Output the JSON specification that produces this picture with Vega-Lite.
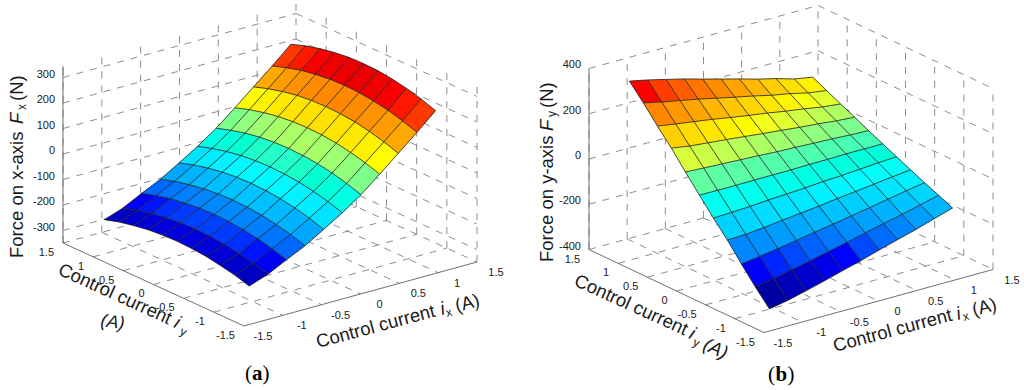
{"$schema":"https://vega.github.io/schema/vega-lite/v6.json","width":1024,"height":390,"autosize":{"type":"fit","contains":"padding"},"padding":0,"background":"white","config":{"view":{"stroke":null},"text":{"font":"Liberation Sans","fill":"#1a1a1a"}},
"data":{"values":[
{"s":"n","p":"a","ix":-1.2,"iy":1.2,"f":-250},{"s":"n","p":"a","ix":-1.2,"iy":0.96,"f":-233},{"s":"n","p":"a","ix":-1.2,"iy":0.72,"f":-221},{"s":"n","p":"a","ix":-1.2,"iy":0.48,"f":-211},{"s":"n","p":"a","ix":-1.2,"iy":0.24,"f":-206},{"s":"n","p":"a","ix":-1.2,"iy":0,"f":-204},{"s":"n","p":"a","ix":-1.2,"iy":-0.24,"f":-206},{"s":"n","p":"a","ix":-1.2,"iy":-0.48,"f":-211},{"s":"n","p":"a","ix":-1.2,"iy":-0.72,"f":-221},{"s":"n","p":"a","ix":-1.2,"iy":-0.96,"f":-233},{"s":"n","p":"a","ix":-1.2,"iy":-1.2,"f":-250},
{"s":"n","p":"a","ix":-0.96,"iy":1.2,"f":-224},{"s":"n","p":"a","ix":-0.96,"iy":0.96,"f":-207},{"s":"n","p":"a","ix":-0.96,"iy":0.72,"f":-194},{"s":"n","p":"a","ix":-0.96,"iy":0.48,"f":-185},{"s":"n","p":"a","ix":-0.96,"iy":0.24,"f":-179},{"s":"n","p":"a","ix":-0.96,"iy":0,"f":-177},{"s":"n","p":"a","ix":-0.96,"iy":-0.24,"f":-179},{"s":"n","p":"a","ix":-0.96,"iy":-0.48,"f":-185},{"s":"n","p":"a","ix":-0.96,"iy":-0.72,"f":-194},{"s":"n","p":"a","ix":-0.96,"iy":-0.96,"f":-207},{"s":"n","p":"a","ix":-0.96,"iy":-1.2,"f":-224},
{"s":"n","p":"a","ix":-0.72,"iy":1.2,"f":-187},{"s":"n","p":"a","ix":-0.72,"iy":0.96,"f":-170},{"s":"n","p":"a","ix":-0.72,"iy":0.72,"f":-156},{"s":"n","p":"a","ix":-0.72,"iy":0.48,"f":-147},{"s":"n","p":"a","ix":-0.72,"iy":0.24,"f":-141},{"s":"n","p":"a","ix":-0.72,"iy":0,"f":-139},{"s":"n","p":"a","ix":-0.72,"iy":-0.24,"f":-141},{"s":"n","p":"a","ix":-0.72,"iy":-0.48,"f":-147},{"s":"n","p":"a","ix":-0.72,"iy":-0.72,"f":-156},{"s":"n","p":"a","ix":-0.72,"iy":-0.96,"f":-170},{"s":"n","p":"a","ix":-0.72,"iy":-1.2,"f":-187},
{"s":"n","p":"a","ix":-0.48,"iy":1.2,"f":-152},{"s":"n","p":"a","ix":-0.48,"iy":0.96,"f":-134},{"s":"n","p":"a","ix":-0.48,"iy":0.72,"f":-121},{"s":"n","p":"a","ix":-0.48,"iy":0.48,"f":-111},{"s":"n","p":"a","ix":-0.48,"iy":0.24,"f":-105},{"s":"n","p":"a","ix":-0.48,"iy":0,"f":-103},{"s":"n","p":"a","ix":-0.48,"iy":-0.24,"f":-105},{"s":"n","p":"a","ix":-0.48,"iy":-0.48,"f":-111},{"s":"n","p":"a","ix":-0.48,"iy":-0.72,"f":-121},{"s":"n","p":"a","ix":-0.48,"iy":-0.96,"f":-134},{"s":"n","p":"a","ix":-0.48,"iy":-1.2,"f":-152},
{"s":"n","p":"a","ix":-0.24,"iy":1.2,"f":-108},{"s":"n","p":"a","ix":-0.24,"iy":0.96,"f":-90},{"s":"n","p":"a","ix":-0.24,"iy":0.72,"f":-76},{"s":"n","p":"a","ix":-0.24,"iy":0.48,"f":-66},{"s":"n","p":"a","ix":-0.24,"iy":0.24,"f":-60},{"s":"n","p":"a","ix":-0.24,"iy":0,"f":-58},{"s":"n","p":"a","ix":-0.24,"iy":-0.24,"f":-60},{"s":"n","p":"a","ix":-0.24,"iy":-0.48,"f":-66},{"s":"n","p":"a","ix":-0.24,"iy":-0.72,"f":-76},{"s":"n","p":"a","ix":-0.24,"iy":-0.96,"f":-90},{"s":"n","p":"a","ix":-0.24,"iy":-1.2,"f":-108},
{"s":"n","p":"a","ix":0,"iy":1.2,"f":-63},{"s":"n","p":"a","ix":0,"iy":0.96,"f":-45},{"s":"n","p":"a","ix":0,"iy":0.72,"f":-31},{"s":"n","p":"a","ix":0,"iy":0.48,"f":-21},{"s":"n","p":"a","ix":0,"iy":0.24,"f":-15},{"s":"n","p":"a","ix":0,"iy":0,"f":-13},{"s":"n","p":"a","ix":0,"iy":-0.24,"f":-15},{"s":"n","p":"a","ix":0,"iy":-0.48,"f":-21},{"s":"n","p":"a","ix":0,"iy":-0.72,"f":-31},{"s":"n","p":"a","ix":0,"iy":-0.96,"f":-45},{"s":"n","p":"a","ix":0,"iy":-1.2,"f":-63},
{"s":"n","p":"a","ix":0.24,"iy":1.2,"f":-12},{"s":"n","p":"a","ix":0.24,"iy":0.96,"f":6},{"s":"n","p":"a","ix":0.24,"iy":0.72,"f":21},{"s":"n","p":"a","ix":0.24,"iy":0.48,"f":31},{"s":"n","p":"a","ix":0.24,"iy":0.24,"f":37},{"s":"n","p":"a","ix":0.24,"iy":0,"f":39},{"s":"n","p":"a","ix":0.24,"iy":-0.24,"f":37},{"s":"n","p":"a","ix":0.24,"iy":-0.48,"f":31},{"s":"n","p":"a","ix":0.24,"iy":-0.72,"f":21},{"s":"n","p":"a","ix":0.24,"iy":-0.96,"f":6},{"s":"n","p":"a","ix":0.24,"iy":-1.2,"f":-12},
{"s":"n","p":"a","ix":0.48,"iy":1.2,"f":48},{"s":"n","p":"a","ix":0.48,"iy":0.96,"f":67},{"s":"n","p":"a","ix":0.48,"iy":0.72,"f":81},{"s":"n","p":"a","ix":0.48,"iy":0.48,"f":92},{"s":"n","p":"a","ix":0.48,"iy":0.24,"f":98},{"s":"n","p":"a","ix":0.48,"iy":0,"f":100},{"s":"n","p":"a","ix":0.48,"iy":-0.24,"f":98},{"s":"n","p":"a","ix":0.48,"iy":-0.48,"f":92},{"s":"n","p":"a","ix":0.48,"iy":-0.72,"f":81},{"s":"n","p":"a","ix":0.48,"iy":-0.96,"f":67},{"s":"n","p":"a","ix":0.48,"iy":-1.2,"f":48},
{"s":"n","p":"a","ix":0.72,"iy":1.2,"f":110},{"s":"n","p":"a","ix":0.72,"iy":0.96,"f":129},{"s":"n","p":"a","ix":0.72,"iy":0.72,"f":144},{"s":"n","p":"a","ix":0.72,"iy":0.48,"f":155},{"s":"n","p":"a","ix":0.72,"iy":0.24,"f":161},{"s":"n","p":"a","ix":0.72,"iy":0,"f":163},{"s":"n","p":"a","ix":0.72,"iy":-0.24,"f":161},{"s":"n","p":"a","ix":0.72,"iy":-0.48,"f":155},{"s":"n","p":"a","ix":0.72,"iy":-0.72,"f":144},{"s":"n","p":"a","ix":0.72,"iy":-0.96,"f":129},{"s":"n","p":"a","ix":0.72,"iy":-1.2,"f":110},
{"s":"n","p":"a","ix":0.96,"iy":1.2,"f":172},{"s":"n","p":"a","ix":0.96,"iy":0.96,"f":191},{"s":"n","p":"a","ix":0.96,"iy":0.72,"f":207},{"s":"n","p":"a","ix":0.96,"iy":0.48,"f":217},{"s":"n","p":"a","ix":0.96,"iy":0.24,"f":224},{"s":"n","p":"a","ix":0.96,"iy":0,"f":226},{"s":"n","p":"a","ix":0.96,"iy":-0.24,"f":224},{"s":"n","p":"a","ix":0.96,"iy":-0.48,"f":217},{"s":"n","p":"a","ix":0.96,"iy":-0.72,"f":207},{"s":"n","p":"a","ix":0.96,"iy":-0.96,"f":191},{"s":"n","p":"a","ix":0.96,"iy":-1.2,"f":172},
{"s":"n","p":"a","ix":1.2,"iy":1.2,"f":237},{"s":"n","p":"a","ix":1.2,"iy":0.96,"f":257},{"s":"n","p":"a","ix":1.2,"iy":0.72,"f":272},{"s":"n","p":"a","ix":1.2,"iy":0.48,"f":283},{"s":"n","p":"a","ix":1.2,"iy":0.24,"f":290},{"s":"n","p":"a","ix":1.2,"iy":0,"f":292},{"s":"n","p":"a","ix":1.2,"iy":-0.24,"f":290},{"s":"n","p":"a","ix":1.2,"iy":-0.48,"f":283},{"s":"n","p":"a","ix":1.2,"iy":-0.72,"f":272},{"s":"n","p":"a","ix":1.2,"iy":-0.96,"f":257},{"s":"n","p":"a","ix":1.2,"iy":-1.2,"f":237},
{"s":"n","p":"b","ix":-1.2,"iy":1.2,"f":353},{"s":"n","p":"b","ix":-1.2,"iy":0.96,"f":286},{"s":"n","p":"b","ix":-1.2,"iy":0.72,"f":213},{"s":"n","p":"b","ix":-1.2,"iy":0.48,"f":145},{"s":"n","p":"b","ix":-1.2,"iy":0.24,"f":69},{"s":"n","p":"b","ix":-1.2,"iy":0,"f":-4},{"s":"n","p":"b","ix":-1.2,"iy":-0.24,"f":-76},{"s":"n","p":"b","ix":-1.2,"iy":-0.48,"f":-144},{"s":"n","p":"b","ix":-1.2,"iy":-0.72,"f":-220},{"s":"n","p":"b","ix":-1.2,"iy":-0.96,"f":-293},{"s":"n","p":"b","ix":-1.2,"iy":-1.2,"f":-360},
{"s":"n","p":"b","ix":-0.96,"iy":1.2,"f":336},{"s":"n","p":"b","ix":-0.96,"iy":0.96,"f":268},{"s":"n","p":"b","ix":-0.96,"iy":0.72,"f":200},{"s":"n","p":"b","ix":-0.96,"iy":0.48,"f":132},{"s":"n","p":"b","ix":-0.96,"iy":0.24,"f":64},{"s":"n","p":"b","ix":-0.96,"iy":0,"f":-5},{"s":"n","p":"b","ix":-0.96,"iy":-0.24,"f":-73},{"s":"n","p":"b","ix":-0.96,"iy":-0.48,"f":-141},{"s":"n","p":"b","ix":-0.96,"iy":-0.72,"f":-209},{"s":"n","p":"b","ix":-0.96,"iy":-0.96,"f":-277},{"s":"n","p":"b","ix":-0.96,"iy":-1.2,"f":-345},
{"s":"n","p":"b","ix":-0.72,"iy":1.2,"f":316},{"s":"n","p":"b","ix":-0.72,"iy":0.96,"f":252},{"s":"n","p":"b","ix":-0.72,"iy":0.72,"f":188},{"s":"n","p":"b","ix":-0.72,"iy":0.48,"f":124},{"s":"n","p":"b","ix":-0.72,"iy":0.24,"f":60},{"s":"n","p":"b","ix":-0.72,"iy":0,"f":-5},{"s":"n","p":"b","ix":-0.72,"iy":-0.24,"f":-69},{"s":"n","p":"b","ix":-0.72,"iy":-0.48,"f":-133},{"s":"n","p":"b","ix":-0.72,"iy":-0.72,"f":-197},{"s":"n","p":"b","ix":-0.72,"iy":-0.96,"f":-261},{"s":"n","p":"b","ix":-0.72,"iy":-1.2,"f":-325},
{"s":"n","p":"b","ix":-0.48,"iy":1.2,"f":296},{"s":"n","p":"b","ix":-0.48,"iy":0.96,"f":236},{"s":"n","p":"b","ix":-0.48,"iy":0.72,"f":176},{"s":"n","p":"b","ix":-0.48,"iy":0.48,"f":116},{"s":"n","p":"b","ix":-0.48,"iy":0.24,"f":56},{"s":"n","p":"b","ix":-0.48,"iy":0,"f":-4},{"s":"n","p":"b","ix":-0.48,"iy":-0.24,"f":-63},{"s":"n","p":"b","ix":-0.48,"iy":-0.48,"f":-123},{"s":"n","p":"b","ix":-0.48,"iy":-0.72,"f":-183},{"s":"n","p":"b","ix":-0.48,"iy":-0.96,"f":-243},{"s":"n","p":"b","ix":-0.48,"iy":-1.2,"f":-303},
{"s":"n","p":"b","ix":-0.24,"iy":1.2,"f":273},{"s":"n","p":"b","ix":-0.24,"iy":0.96,"f":218},{"s":"n","p":"b","ix":-0.24,"iy":0.72,"f":162},{"s":"n","p":"b","ix":-0.24,"iy":0.48,"f":107},{"s":"n","p":"b","ix":-0.24,"iy":0.24,"f":52},{"s":"n","p":"b","ix":-0.24,"iy":0,"f":-4},{"s":"n","p":"b","ix":-0.24,"iy":-0.24,"f":-59},{"s":"n","p":"b","ix":-0.24,"iy":-0.48,"f":-114},{"s":"n","p":"b","ix":-0.24,"iy":-0.72,"f":-169},{"s":"n","p":"b","ix":-0.24,"iy":-0.96,"f":-225},{"s":"n","p":"b","ix":-0.24,"iy":-1.2,"f":-280},
{"s":"n","p":"b","ix":0,"iy":1.2,"f":251},{"s":"n","p":"b","ix":0,"iy":0.96,"f":200},{"s":"n","p":"b","ix":0,"iy":0.72,"f":149},{"s":"n","p":"b","ix":0,"iy":0.48,"f":98},{"s":"n","p":"b","ix":0,"iy":0.24,"f":47},{"s":"n","p":"b","ix":0,"iy":0,"f":-4},{"s":"n","p":"b","ix":0,"iy":-0.24,"f":-54},{"s":"n","p":"b","ix":0,"iy":-0.48,"f":-105},{"s":"n","p":"b","ix":0,"iy":-0.72,"f":-156},{"s":"n","p":"b","ix":0,"iy":-0.96,"f":-207},{"s":"n","p":"b","ix":0,"iy":-1.2,"f":-258},
{"s":"n","p":"b","ix":0.24,"iy":1.2,"f":229},{"s":"n","p":"b","ix":0.24,"iy":0.96,"f":183},{"s":"n","p":"b","ix":0.24,"iy":0.72,"f":137},{"s":"n","p":"b","ix":0.24,"iy":0.48,"f":90},{"s":"n","p":"b","ix":0.24,"iy":0.24,"f":44},{"s":"n","p":"b","ix":0.24,"iy":0,"f":-2},{"s":"n","p":"b","ix":0.24,"iy":-0.24,"f":-48},{"s":"n","p":"b","ix":0.24,"iy":-0.48,"f":-94},{"s":"n","p":"b","ix":0.24,"iy":-0.72,"f":-141},{"s":"n","p":"b","ix":0.24,"iy":-0.96,"f":-187},{"s":"n","p":"b","ix":0.24,"iy":-1.2,"f":-233},
{"s":"n","p":"b","ix":0.48,"iy":1.2,"f":206},{"s":"n","p":"b","ix":0.48,"iy":0.96,"f":164},{"s":"n","p":"b","ix":0.48,"iy":0.72,"f":123},{"s":"n","p":"b","ix":0.48,"iy":0.48,"f":81},{"s":"n","p":"b","ix":0.48,"iy":0.24,"f":40},{"s":"n","p":"b","ix":0.48,"iy":0,"f":-2},{"s":"n","p":"b","ix":0.48,"iy":-0.24,"f":-44},{"s":"n","p":"b","ix":0.48,"iy":-0.48,"f":-85},{"s":"n","p":"b","ix":0.48,"iy":-0.72,"f":-127},{"s":"n","p":"b","ix":0.48,"iy":-0.96,"f":-168},{"s":"n","p":"b","ix":0.48,"iy":-1.2,"f":-210},
{"s":"n","p":"b","ix":0.72,"iy":1.2,"f":186},{"s":"n","p":"b","ix":0.72,"iy":0.96,"f":149},{"s":"n","p":"b","ix":0.72,"iy":0.72,"f":111},{"s":"n","p":"b","ix":0.72,"iy":0.48,"f":74},{"s":"n","p":"b","ix":0.72,"iy":0.24,"f":37},{"s":"n","p":"b","ix":0.72,"iy":0,"f":0},{"s":"n","p":"b","ix":0.72,"iy":-0.24,"f":-38},{"s":"n","p":"b","ix":0.72,"iy":-0.48,"f":-75},{"s":"n","p":"b","ix":0.72,"iy":-0.72,"f":-112},{"s":"n","p":"b","ix":0.72,"iy":-0.96,"f":-150},{"s":"n","p":"b","ix":0.72,"iy":-1.2,"f":-187},
{"s":"n","p":"b","ix":0.96,"iy":1.2,"f":162},{"s":"n","p":"b","ix":0.96,"iy":0.96,"f":130},{"s":"n","p":"b","ix":0.96,"iy":0.72,"f":97},{"s":"n","p":"b","ix":0.96,"iy":0.48,"f":65},{"s":"n","p":"b","ix":0.96,"iy":0.24,"f":32},{"s":"n","p":"b","ix":0.96,"iy":0,"f":0},{"s":"n","p":"b","ix":0.96,"iy":-0.24,"f":-32},{"s":"n","p":"b","ix":0.96,"iy":-0.48,"f":-65},{"s":"n","p":"b","ix":0.96,"iy":-0.72,"f":-97},{"s":"n","p":"b","ix":0.96,"iy":-0.96,"f":-130},{"s":"n","p":"b","ix":0.96,"iy":-1.2,"f":-162},
{"s":"n","p":"b","ix":1.2,"iy":1.2,"f":148},{"s":"n","p":"b","ix":1.2,"iy":0.96,"f":118},{"s":"n","p":"b","ix":1.2,"iy":0.72,"f":88},{"s":"n","p":"b","ix":1.2,"iy":0.48,"f":59},{"s":"n","p":"b","ix":1.2,"iy":0.24,"f":29},{"s":"n","p":"b","ix":1.2,"iy":0,"f":0},{"s":"n","p":"b","ix":1.2,"iy":-0.24,"f":-28},{"s":"n","p":"b","ix":1.2,"iy":-0.48,"f":-56},{"s":"n","p":"b","ix":1.2,"iy":-0.72,"f":-84},{"s":"n","p":"b","ix":1.2,"iy":-0.96,"f":-110},{"s":"n","p":"b","ix":1.2,"iy":-1.2,"f":-137},

{"s":"g","p":"a","ix":-1.5,"iy":1.5,"f":-349,"ix2":-1.5,"iy2":1.5,"f2":345},{"s":"g","p":"a","ix":-1,"iy":1.5,"f":-349,"ix2":-1,"iy2":1.5,"f2":345},{"s":"g","p":"a","ix":-0.5,"iy":1.5,"f":-349,"ix2":-0.5,"iy2":1.5,"f2":345},{"s":"g","p":"a","ix":0,"iy":1.5,"f":-349,"ix2":0,"iy2":1.5,"f2":345},{"s":"g","p":"a","ix":0.5,"iy":1.5,"f":-349,"ix2":0.5,"iy2":1.5,"f2":345},{"s":"g","p":"a","ix":1,"iy":1.5,"f":-349,"ix2":1,"iy2":1.5,"f2":345},{"s":"g","p":"a","ix":1.5,"iy":1.5,"f":-349,"ix2":1.5,"iy2":1.5,"f2":345},
{"s":"g","p":"a","ix":1.5,"iy":1,"f":-349,"ix2":1.5,"iy2":1,"f2":345},{"s":"g","p":"a","ix":1.5,"iy":0.5,"f":-349,"ix2":1.5,"iy2":0.5,"f2":345},{"s":"g","p":"a","ix":1.5,"iy":0,"f":-349,"ix2":1.5,"iy2":0,"f2":345},{"s":"g","p":"a","ix":1.5,"iy":-0.5,"f":-349,"ix2":1.5,"iy2":-0.5,"f2":345},{"s":"g","p":"a","ix":1.5,"iy":-1,"f":-349,"ix2":1.5,"iy2":-1,"f2":345},{"s":"g","p":"a","ix":1.5,"iy":-1.5,"f":-349,"ix2":1.5,"iy2":-1.5,"f2":345},
{"s":"g","p":"a","ix":-1.5,"iy":1.5,"f":-300,"ix2":1.5,"iy2":1.5,"f2":-300},{"s":"g","p":"a","ix":-1.5,"iy":1.5,"f":-200,"ix2":1.5,"iy2":1.5,"f2":-200},{"s":"g","p":"a","ix":-1.5,"iy":1.5,"f":-100,"ix2":1.5,"iy2":1.5,"f2":-100},{"s":"g","p":"a","ix":-1.5,"iy":1.5,"f":0,"ix2":1.5,"iy2":1.5,"f2":0},{"s":"g","p":"a","ix":-1.5,"iy":1.5,"f":100,"ix2":1.5,"iy2":1.5,"f2":100},{"s":"g","p":"a","ix":-1.5,"iy":1.5,"f":200,"ix2":1.5,"iy2":1.5,"f2":200},{"s":"g","p":"a","ix":-1.5,"iy":1.5,"f":300,"ix2":1.5,"iy2":1.5,"f2":300},
{"s":"g","p":"a","ix":1.5,"iy":1.5,"f":-300,"ix2":1.5,"iy2":-1.5,"f2":-300},{"s":"g","p":"a","ix":1.5,"iy":1.5,"f":-200,"ix2":1.5,"iy2":-1.5,"f2":-200},{"s":"g","p":"a","ix":1.5,"iy":1.5,"f":-100,"ix2":1.5,"iy2":-1.5,"f2":-100},{"s":"g","p":"a","ix":1.5,"iy":1.5,"f":0,"ix2":1.5,"iy2":-1.5,"f2":0},{"s":"g","p":"a","ix":1.5,"iy":1.5,"f":100,"ix2":1.5,"iy2":-1.5,"f2":100},{"s":"g","p":"a","ix":1.5,"iy":1.5,"f":200,"ix2":1.5,"iy2":-1.5,"f2":200},{"s":"g","p":"a","ix":1.5,"iy":1.5,"f":300,"ix2":1.5,"iy2":-1.5,"f2":300},
{"s":"g","p":"a","ix":-1,"iy":1.5,"f":-349,"ix2":-1,"iy2":-1.5,"f2":-349},{"s":"g","p":"a","ix":-0.5,"iy":1.5,"f":-349,"ix2":-0.5,"iy2":-1.5,"f2":-349},{"s":"g","p":"a","ix":0,"iy":1.5,"f":-349,"ix2":0,"iy2":-1.5,"f2":-349},{"s":"g","p":"a","ix":0.5,"iy":1.5,"f":-349,"ix2":0.5,"iy2":-1.5,"f2":-349},{"s":"g","p":"a","ix":1,"iy":1.5,"f":-349,"ix2":1,"iy2":-1.5,"f2":-349},{"s":"g","p":"a","ix":1.5,"iy":1.5,"f":-349,"ix2":1.5,"iy2":-1.5,"f2":-349},
{"s":"g","p":"a","ix":-1.5,"iy":1,"f":-349,"ix2":1.5,"iy2":1,"f2":-349},{"s":"g","p":"a","ix":-1.5,"iy":0.5,"f":-349,"ix2":1.5,"iy2":0.5,"f2":-349},{"s":"g","p":"a","ix":-1.5,"iy":0,"f":-349,"ix2":1.5,"iy2":0,"f2":-349},{"s":"g","p":"a","ix":-1.5,"iy":-0.5,"f":-349,"ix2":1.5,"iy2":-0.5,"f2":-349},{"s":"g","p":"a","ix":-1.5,"iy":-1,"f":-349,"ix2":1.5,"iy2":-1,"f2":-349},{"s":"g","p":"a","ix":-1.5,"iy":1.5,"f":-349,"ix2":1.5,"iy2":1.5,"f2":-349},

{"s":"g","p":"b","ix":-1.5,"iy":1.5,"f":-400,"ix2":-1.5,"iy2":1.5,"f2":400},{"s":"g","p":"b","ix":-1,"iy":1.5,"f":-400,"ix2":-1,"iy2":1.5,"f2":400},{"s":"g","p":"b","ix":-0.5,"iy":1.5,"f":-400,"ix2":-0.5,"iy2":1.5,"f2":400},{"s":"g","p":"b","ix":0,"iy":1.5,"f":-400,"ix2":0,"iy2":1.5,"f2":400},{"s":"g","p":"b","ix":0.5,"iy":1.5,"f":-400,"ix2":0.5,"iy2":1.5,"f2":400},{"s":"g","p":"b","ix":1,"iy":1.5,"f":-400,"ix2":1,"iy2":1.5,"f2":400},{"s":"g","p":"b","ix":1.5,"iy":1.5,"f":-400,"ix2":1.5,"iy2":1.5,"f2":400},
{"s":"g","p":"b","ix":1.5,"iy":1,"f":-400,"ix2":1.5,"iy2":1,"f2":400},{"s":"g","p":"b","ix":1.5,"iy":0.5,"f":-400,"ix2":1.5,"iy2":0.5,"f2":400},{"s":"g","p":"b","ix":1.5,"iy":0,"f":-400,"ix2":1.5,"iy2":0,"f2":400},{"s":"g","p":"b","ix":1.5,"iy":-0.5,"f":-400,"ix2":1.5,"iy2":-0.5,"f2":400},{"s":"g","p":"b","ix":1.5,"iy":-1,"f":-400,"ix2":1.5,"iy2":-1,"f2":400},{"s":"g","p":"b","ix":1.5,"iy":-1.5,"f":-400,"ix2":1.5,"iy2":-1.5,"f2":400},
{"s":"g","p":"b","ix":-1.5,"iy":1.5,"f":-200,"ix2":1.5,"iy2":1.5,"f2":-200},{"s":"g","p":"b","ix":-1.5,"iy":1.5,"f":0,"ix2":1.5,"iy2":1.5,"f2":0},{"s":"g","p":"b","ix":-1.5,"iy":1.5,"f":200,"ix2":1.5,"iy2":1.5,"f2":200},{"s":"g","p":"b","ix":-1.5,"iy":1.5,"f":400,"ix2":1.5,"iy2":1.5,"f2":400},
{"s":"g","p":"b","ix":1.5,"iy":1.5,"f":-200,"ix2":1.5,"iy2":-1.5,"f2":-200},{"s":"g","p":"b","ix":1.5,"iy":1.5,"f":0,"ix2":1.5,"iy2":-1.5,"f2":0},{"s":"g","p":"b","ix":1.5,"iy":1.5,"f":200,"ix2":1.5,"iy2":-1.5,"f2":200},{"s":"g","p":"b","ix":1.5,"iy":1.5,"f":400,"ix2":1.5,"iy2":-1.5,"f2":400},
{"s":"g","p":"b","ix":-1,"iy":1.5,"f":-400,"ix2":-1,"iy2":-1.5,"f2":-400},{"s":"g","p":"b","ix":-0.5,"iy":1.5,"f":-400,"ix2":-0.5,"iy2":-1.5,"f2":-400},{"s":"g","p":"b","ix":0,"iy":1.5,"f":-400,"ix2":0,"iy2":-1.5,"f2":-400},{"s":"g","p":"b","ix":0.5,"iy":1.5,"f":-400,"ix2":0.5,"iy2":-1.5,"f2":-400},{"s":"g","p":"b","ix":1,"iy":1.5,"f":-400,"ix2":1,"iy2":-1.5,"f2":-400},{"s":"g","p":"b","ix":1.5,"iy":1.5,"f":-400,"ix2":1.5,"iy2":-1.5,"f2":-400},
{"s":"g","p":"b","ix":-1.5,"iy":1,"f":-400,"ix2":1.5,"iy2":1,"f2":-400},{"s":"g","p":"b","ix":-1.5,"iy":0.5,"f":-400,"ix2":1.5,"iy2":0.5,"f2":-400},{"s":"g","p":"b","ix":-1.5,"iy":0,"f":-400,"ix2":1.5,"iy2":0,"f2":-400},{"s":"g","p":"b","ix":-1.5,"iy":-0.5,"f":-400,"ix2":1.5,"iy2":-0.5,"f2":-400},{"s":"g","p":"b","ix":-1.5,"iy":-1,"f":-400,"ix2":1.5,"iy2":-1,"f2":-400},{"s":"g","p":"b","ix":-1.5,"iy":1.5,"f":-400,"ix2":1.5,"iy2":1.5,"f2":-400},

{"s":"x","p":"a","ix":-1.5,"iy":1.5,"f":-349,"ix2":-1.5,"iy2":1.5,"f2":345},{"s":"x","p":"a","ix":-1.5,"iy":1.5,"f":-349,"ix2":-1.5,"iy2":-1.5,"f2":-349},{"s":"x","p":"a","ix":-1.5,"iy":-1.5,"f":-349,"ix2":1.5,"iy2":-1.5,"f2":-349},
{"s":"x","p":"b","ix":-1.5,"iy":1.5,"f":-400,"ix2":-1.5,"iy2":1.5,"f2":400},{"s":"x","p":"b","ix":-1.5,"iy":1.5,"f":-400,"ix2":-1.5,"iy2":-1.5,"f2":-400},{"s":"x","p":"b","ix":-1.5,"iy":-1.5,"f":-400,"ix2":1.5,"iy2":-1.5,"f2":-400},

{"s":"lz","p":"a","ix":-1.5,"iy":1.5,"f":-300,"label":"-300"},{"s":"lz","p":"a","ix":-1.5,"iy":1.5,"f":-200,"label":"-200"},{"s":"lz","p":"a","ix":-1.5,"iy":1.5,"f":-100,"label":"-100"},{"s":"lz","p":"a","ix":-1.5,"iy":1.5,"f":0,"label":"0"},{"s":"lz","p":"a","ix":-1.5,"iy":1.5,"f":100,"label":"100"},{"s":"lz","p":"a","ix":-1.5,"iy":1.5,"f":200,"label":"200"},{"s":"lz","p":"a","ix":-1.5,"iy":1.5,"f":300,"label":"300"},
{"s":"lz","p":"b","ix":-1.5,"iy":1.5,"f":-400,"label":"-400"},{"s":"lz","p":"b","ix":-1.5,"iy":1.5,"f":-200,"label":"-200"},{"s":"lz","p":"b","ix":-1.5,"iy":1.5,"f":0,"label":"0"},{"s":"lz","p":"b","ix":-1.5,"iy":1.5,"f":200,"label":"200"},{"s":"lz","p":"b","ix":-1.5,"iy":1.5,"f":400,"label":"400"},
{"s":"lx","p":"a","ix":-1.5,"iy":-1.5,"f":-349,"label":"-1.5"},{"s":"lx","p":"a","ix":-1,"iy":-1.5,"f":-349,"label":"-1"},{"s":"lx","p":"a","ix":-0.5,"iy":-1.5,"f":-349,"label":"-0.5"},{"s":"lx","p":"a","ix":0,"iy":-1.5,"f":-349,"label":"0"},{"s":"lx","p":"a","ix":0.5,"iy":-1.5,"f":-349,"label":"0.5"},{"s":"lx","p":"a","ix":1,"iy":-1.5,"f":-349,"label":"1"},{"s":"lx","p":"a","ix":1.5,"iy":-1.5,"f":-349,"label":"1.5"},
{"s":"lx","p":"b","ix":-1.5,"iy":-1.5,"f":-400,"label":"-1.5"},{"s":"lx","p":"b","ix":-1,"iy":-1.5,"f":-400,"label":"-1"},{"s":"lx","p":"b","ix":-0.5,"iy":-1.5,"f":-400,"label":"-0.5"},{"s":"lx","p":"b","ix":0,"iy":-1.5,"f":-400,"label":"0"},{"s":"lx","p":"b","ix":0.5,"iy":-1.5,"f":-400,"label":"0.5"},{"s":"lx","p":"b","ix":1,"iy":-1.5,"f":-400,"label":"1"},{"s":"lx","p":"b","ix":1.5,"iy":-1.5,"f":-400,"label":"1.5"},
{"s":"ly","p":"a","ix":-1.5,"iy":-1.5,"f":-349,"label":"-1.5"},{"s":"ly","p":"a","ix":-1.5,"iy":-1,"f":-349,"label":"-1"},{"s":"ly","p":"a","ix":-1.5,"iy":-0.5,"f":-349,"label":"-0.5"},{"s":"ly","p":"a","ix":-1.5,"iy":0,"f":-349,"label":"0"},{"s":"ly","p":"a","ix":-1.5,"iy":0.5,"f":-349,"label":"0.5"},{"s":"ly","p":"a","ix":-1.5,"iy":1,"f":-349,"label":"1"},{"s":"ly","p":"a","ix":-1.5,"iy":1.5,"f":-349,"label":"1.5"},
{"s":"ly","p":"b","ix":-1.5,"iy":-1.5,"f":-400,"label":"-1.5"},{"s":"ly","p":"b","ix":-1.5,"iy":-1,"f":-400,"label":"-1"},{"s":"ly","p":"b","ix":-1.5,"iy":-0.5,"f":-400,"label":"-0.5"},{"s":"ly","p":"b","ix":-1.5,"iy":0,"f":-400,"label":"0"},{"s":"ly","p":"b","ix":-1.5,"iy":0.5,"f":-400,"label":"0.5"},{"s":"ly","p":"b","ix":-1.5,"iy":1,"f":-400,"label":"1"},{"s":"ly","p":"b","ix":-1.5,"iy":1.5,"f":-400,"label":"1.5"},

{"s":"zN","p":"a","ix":-3.648,"iy":-0.603,"f":0,"label":"Force on x-axis"},{"s":"zN","p":"a","ix":-0.891,"iy":2.946,"f":0,"label":"(N)"},{"s":"zI","p":"a","ix":-1.295,"iy":2.427,"f":0,"label":"F"},{"s":"zS","p":"a","ix":-1.025,"iy":2.724,"f":0,"label":"x"},
{"s":"xN","p":"a","ix":-2.853,"iy":-4.469,"f":0,"label":"Control current"},{"s":"xI","p":"a","ix":-1.275,"iy":-4.493,"f":0,"label":"i"},{"s":"xS","p":"a","ix":-1.27,"iy":-4.569,"f":0,"label":"x"},{"s":"xN","p":"a","ix":-1.102,"iy":-4.518,"f":0,"label":"(A)"},
{"s":"yN","p":"a","ix":-3.656,"iy":-1.175,"f":0,"label":"Control current"},{"s":"yI","p":"a","ix":-3.652,"iy":-3.094,"f":0,"label":"i"},{"s":"yS","p":"a","ix":-3.727,"iy":-3.289,"f":0,"label":"y"},{"s":"uI","p":"a","ix":-4.222,"iy":-2.618,"f":0,"label":"(A)"},
{"s":"cN","p":"a","ix":-4.003,"iy":-4.739,"f":0,"label":"("},{"s":"cB","p":"a","ix":-3.947,"iy":-4.782,"f":0,"label":"a"},{"s":"cN","p":"a","ix":-3.862,"iy":-4.847,"f":0,"label":")"},
{"s":"zN","p":"b","ix":-3.599,"iy":-0.63,"f":0,"label":"Force on y-axis"},{"s":"zN","p":"b","ix":-0.907,"iy":2.893,"f":0,"label":"(N)"},{"s":"zI","p":"b","ix":-1.309,"iy":2.367,"f":0,"label":"F"},{"s":"zS","p":"b","ix":-1.039,"iy":2.668,"f":0,"label":"y"},
{"s":"xN","p":"b","ix":-2.834,"iy":-4.463,"f":0,"label":"Control current"},{"s":"xI","p":"b","ix":-1.255,"iy":-4.505,"f":0,"label":"i"},{"s":"xS","p":"b","ix":-1.223,"iy":-4.566,"f":0,"label":"x"},{"s":"xN","p":"b","ix":-1.053,"iy":-4.514,"f":0,"label":"(A)"},
{"s":"yN","p":"b","ix":-3.835,"iy":-1.282,"f":0,"label":"Control current"},{"s":"yI","p":"b","ix":-3.808,"iy":-3.218,"f":0,"label":"i"},{"s":"yS","p":"b","ix":-3.898,"iy":-3.403,"f":0,"label":"y"},{"s":"yI","p":"b","ix":-3.885,"iy":-3.558,"f":0,"label":"(A)"},
{"s":"cN","p":"b","ix":-3.897,"iy":-4.705,"f":0,"label":"("},{"s":"cB","p":"b","ix":-3.834,"iy":-4.752,"f":0,"label":"b"},{"s":"cN","p":"b","ix":-3.735,"iy":-4.828,"f":0,"label":")"}
]},
"transform":[
{"calculate":"datum.p==='a'?63+233*(datum.ix+1.5)/3+181*(1.5-datum.iy)/3:589+229*(datum.ix+1.5)/3+175*(1.5-datum.iy)/3","as":"sx"},
{"calculate":"datum.p==='a'?154-0.255*datum.f-64*(datum.ix+1.5)/3+83*(1.5-datum.iy)/3:159-0.2263*datum.f-63*(datum.ix+1.5)/3+83*(1.5-datum.iy)/3","as":"sy"},
{"calculate":"datum.p==='a'?63+233*(datum.ix2+1.5)/3+181*(1.5-datum.iy2)/3:589+229*(datum.ix2+1.5)/3+175*(1.5-datum.iy2)/3","as":"sx2"},
{"calculate":"datum.p==='a'?154-0.255*datum.f2-64*(datum.ix2+1.5)/3+83*(1.5-datum.iy2)/3:159-0.2263*datum.f2-63*(datum.ix2+1.5)/3+83*(1.5-datum.iy2)/3","as":"sy2"}
],
"encoding":{"x":{"field":"sx","type":"quantitative","scale":{"domain":[0,1024],"nice":false,"zero":false},"axis":null},"y":{"field":"sy","type":"quantitative","scale":{"domain":[390,0],"nice":false,"zero":false},"axis":null}},
"layer":[
{"transform":[{"filter":"datum.s==='g'"}],"mark":{"type":"rule","stroke":"#808080","strokeWidth":0.9,"strokeDash":[7,7]},"encoding":{"x2":{"field":"sx2"},"y2":{"field":"sy2"}}},
{"transform":[{"filter":"datum.s==='x'"}],"mark":{"type":"rule","stroke":"#707070","strokeWidth":1},"encoding":{"x2":{"field":"sx2"},"y2":{"field":"sy2"}}},
{"transform":[{"filter":"datum.s==='n'"},
{"calculate":"round((datum.ix+1.2)/0.24)","as":"k"},{"calculate":"round((1.2-datum.iy)/0.24)","as":"j"},
{"calculate":"[0,1,2,3]","as":"corner"},{"flatten":["corner"]},
{"calculate":"datum.k-((datum.corner===1||datum.corner===2)?1:0)","as":"qk"},
{"calculate":"datum.j-((datum.corner===2||datum.corner===3)?1:0)","as":"qj"},
{"filter":"datum.qk>=0&&datum.qj>=0&&datum.qk<10&&datum.qj<10"},
{"calculate":"datum.p+'-'+datum.qk+'-'+datum.qj","as":"q"},
{"joinaggregate":[{"op":"mean","field":"f","as":"mf"}],"groupby":["q"]},
{"joinaggregate":[{"op":"mean","field":"f","as":"bm"}],"groupby":["p","qk"]},
{"calculate":"datum.p==='a'?(0.5*datum.mf+0.5*(datum.bm+35)+232)/558:(datum.mf+335)/738","as":"t"}],
"mark":{"type":"line","interpolate":"linear","strokeWidth":0,"clip":false},
"encoding":{"fill":{"field":"t","type":"quantitative","legend":null,"scale":{"domain":[0,0.125,0.375,0.625,0.875,1],"range":["#00008f","#0000ff","#00ffff","#ffff00","#ff0000","#800000"],"clamp":true}},"detail":{"field":"q"},"order":{"field":"corner","type":"quantitative"}}},
{"transform":[{"filter":"datum.s==='n'"}],"mark":{"type":"line","stroke":"#1c1c1c","strokeWidth":0.8},"encoding":{"detail":[{"field":"p"},{"field":"ix"}],"order":{"field":"iy","type":"quantitative"}}},
{"transform":[{"filter":"datum.s==='n'"}],"mark":{"type":"line","stroke":"#1c1c1c","strokeWidth":0.8},"encoding":{"detail":[{"field":"p"},{"field":"iy"}],"order":{"field":"ix","type":"quantitative"}}},
{"transform":[{"filter":"datum.s==='lz'"}],"mark":{"type":"text","fontSize":11,"align":"right","baseline":"middle","dx":-8,"dy":-3},"encoding":{"text":{"field":"label"}}},
{"transform":[{"filter":"datum.s==='lx'"}],"mark":{"type":"text","fontSize":11,"align":"center","baseline":"middle","dx":19,"dy":11},"encoding":{"text":{"field":"label"}}},
{"transform":[{"filter":"datum.s==='ly'"}],"mark":{"type":"text","fontSize":11,"align":"right","baseline":"middle","dx":-9,"dy":10},"encoding":{"text":{"field":"label"}}},
{"transform":[{"filter":"datum.s==='zN'"}],"mark":{"type":"text","fontSize":18.5,"align":"left","baseline":"alphabetic","angle":-90},"encoding":{"text":{"field":"label"}}},
{"transform":[{"filter":"datum.s==='zI'"}],"mark":{"type":"text","fontSize":18.5,"fontStyle":"italic","align":"left","baseline":"alphabetic","angle":-90},"encoding":{"text":{"field":"label"}}},
{"transform":[{"filter":"datum.s==='zS'"}],"mark":{"type":"text","fontSize":12,"align":"left","baseline":"alphabetic","angle":-90},"encoding":{"text":{"field":"label"}}},
{"transform":[{"filter":"datum.s==='xN'"}],"mark":{"type":"text","fontSize":18.5,"align":"left","baseline":"alphabetic","angle":-15},"encoding":{"text":{"field":"label"}}},
{"transform":[{"filter":"datum.s==='xI'"}],"mark":{"type":"text","fontSize":18.5,"fontStyle":"italic","align":"left","baseline":"alphabetic","angle":-15},"encoding":{"text":{"field":"label"}}},
{"transform":[{"filter":"datum.s==='xS'"}],"mark":{"type":"text","fontSize":12,"align":"left","baseline":"alphabetic","angle":-15},"encoding":{"text":{"field":"label"}}},
{"transform":[{"filter":"datum.s==='yN'"}],"mark":{"type":"text","fontSize":18.5,"align":"left","baseline":"alphabetic","angle":24.5},"encoding":{"text":{"field":"label"}}},
{"transform":[{"filter":"datum.s==='yI'"}],"mark":{"type":"text","fontSize":18.5,"fontStyle":"italic","align":"left","baseline":"alphabetic","angle":24.5},"encoding":{"text":{"field":"label"}}},
{"transform":[{"filter":"datum.s==='yS'"}],"mark":{"type":"text","fontSize":12,"align":"left","baseline":"alphabetic","angle":24.5},"encoding":{"text":{"field":"label"}}},
{"transform":[{"filter":"datum.s==='uI'"}],"mark":{"type":"text","fontSize":18,"fontStyle":"italic","align":"left","baseline":"alphabetic","angle":8},"encoding":{"text":{"field":"label"}}},
{"transform":[{"filter":"datum.s==='cN'"}],"mark":{"type":"text","font":"Liberation Serif","fontSize":21,"fill":"#000000","align":"left","baseline":"alphabetic"},"encoding":{"text":{"field":"label"}}},
{"transform":[{"filter":"datum.s==='cB'"}],"mark":{"type":"text","font":"Liberation Serif","fontSize":21,"fontWeight":"bold","fill":"#000000","align":"left","baseline":"alphabetic"},"encoding":{"text":{"field":"label"}}}
]}
